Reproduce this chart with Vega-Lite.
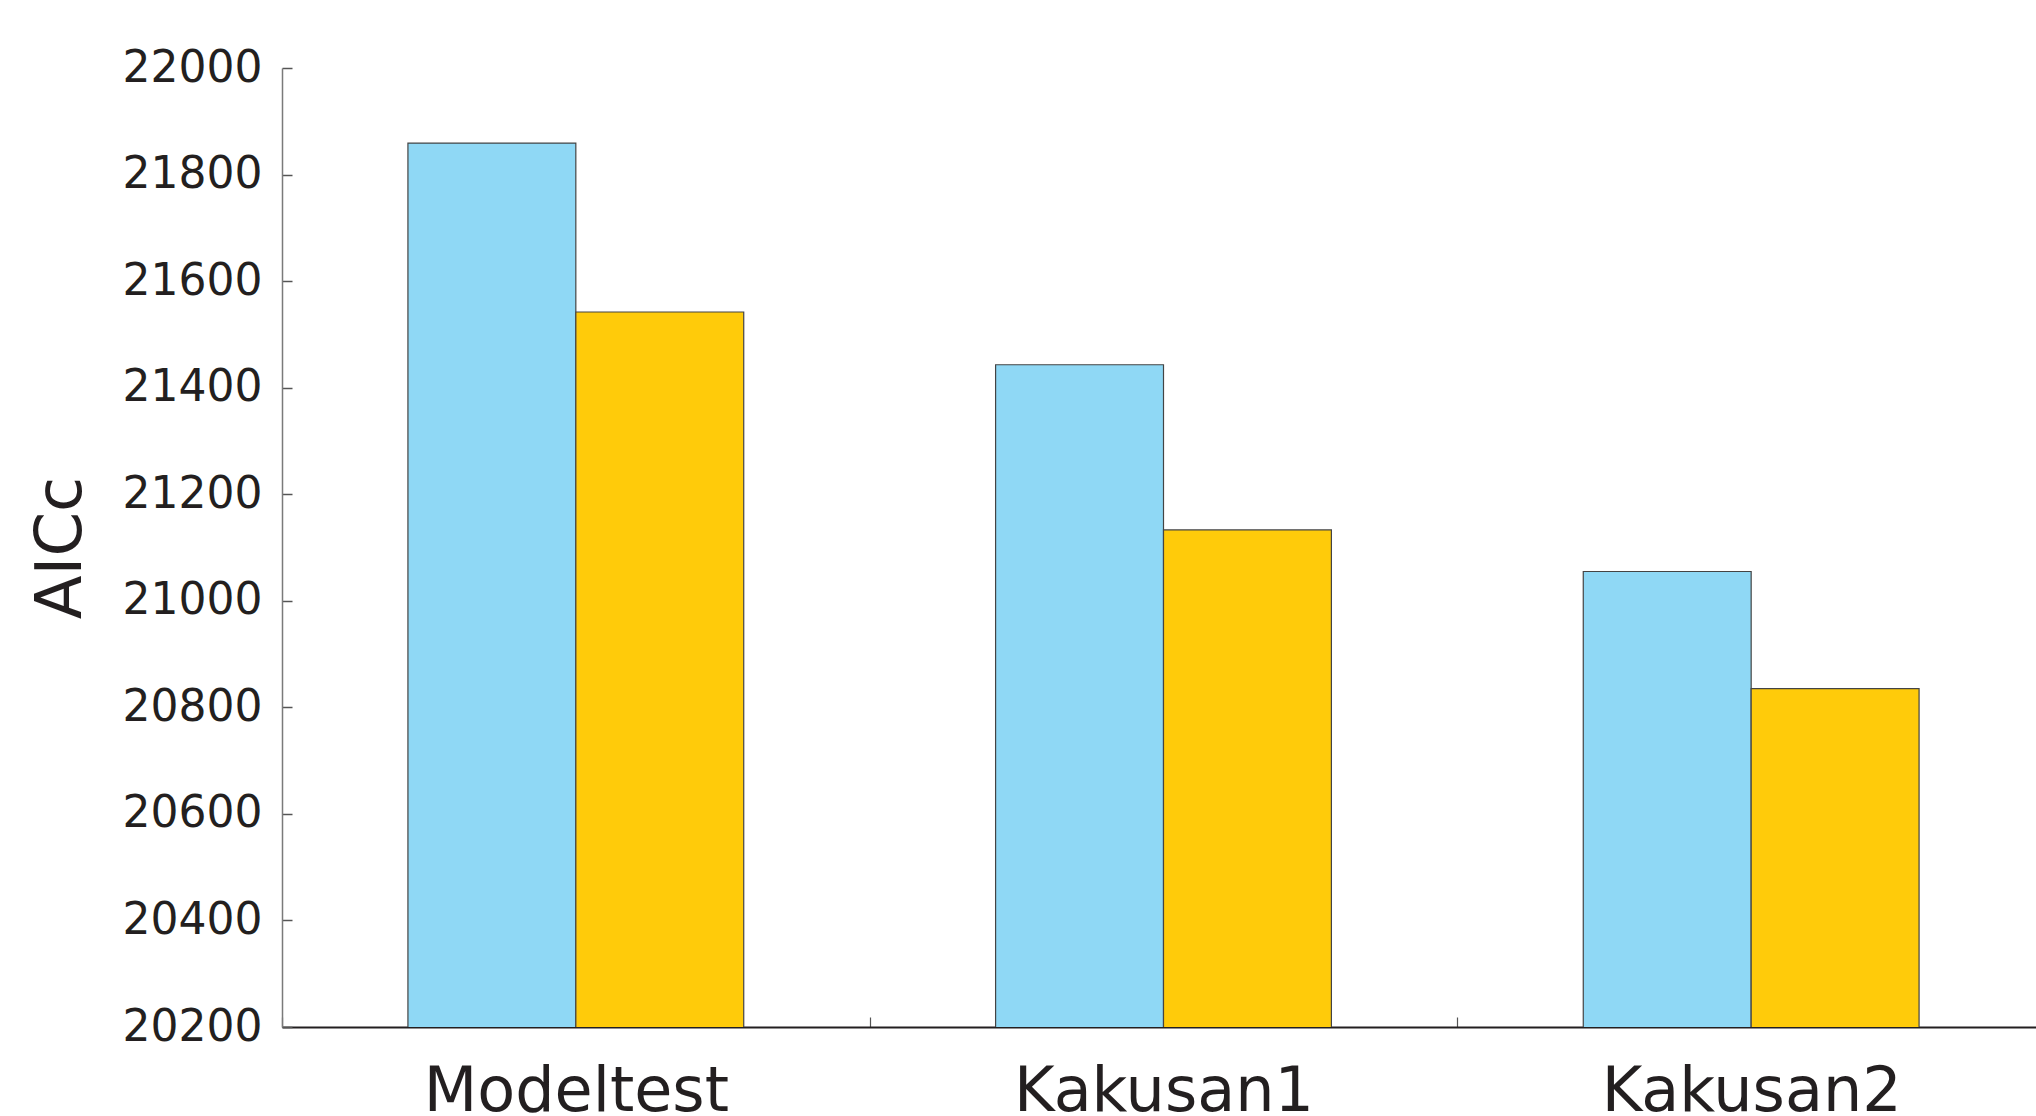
{
  "$schema": "https://vega.github.io/schema/vega-lite/v6.json",
  "width": 1754,
  "height": 959,
  "autosize": {"type": "none"},
  "padding": {"left": 282, "top": 68, "right": 0, "bottom": 89},
  "background": "white",
  "data": {
    "values": [
      {"program": "Modeltest", "series": "A", "AICc": 21859},
      {"program": "Modeltest", "series": "B", "AICc": 21542},
      {"program": "Kakusan1", "series": "A", "AICc": 21443},
      {"program": "Kakusan1", "series": "B", "AICc": 21133},
      {"program": "Kakusan2", "series": "A", "AICc": 21055},
      {"program": "Kakusan2", "series": "B", "AICc": 20835}
    ]
  },
  "mark": {"type": "bar", "stroke": "#444444", "strokeWidth": 1.2, "clip": true},
  "encoding": {
    "x": {
      "field": "program",
      "type": "nominal",
      "sort": ["Modeltest", "Kakusan1", "Kakusan2"],
      "scale": {"range": [0, 1763], "paddingInner": 0, "paddingOuter": 0},
      "axis": {
        "title": null,
        "labelAngle": 0,
        "labelFont": "DejaVu Sans",
        "labelFontSize": 62,
        "labelColor": "#231f20",
        "labelPadding": 44,
        "labelLimit": 0,
        "tickBand": "extent",
        "tickSize": -10,
        "tickColor": "#555555",
        "tickWidth": 1.2,
        "domainColor": "#231f20",
        "domainWidth": 2
      }
    },
    "xOffset": {
      "field": "series",
      "type": "nominal",
      "scale": {"paddingInner": 0, "paddingOuter": 0.75}
    },
    "y": {
      "field": "AICc",
      "type": "quantitative",
      "scale": {"domain": [20200, 22000], "zero": false, "nice": false},
      "axis": {
        "title": "AICc",
        "titleFont": "DejaVu Sans",
        "titleFontSize": 64,
        "titleFontWeight": "normal",
        "titleColor": "#231f20",
        "titlePadding": 29,
        "values": [20200, 20400, 20600, 20800, 21000, 21200, 21400, 21600, 21800, 22000],
        "format": "d",
        "labelFont": "DejaVu Sans",
        "labelFontSize": 44,
        "labelColor": "#231f20",
        "labelPadding": 30,
        "labelLimit": 0,
        "tickSize": -10,
        "tickColor": "#555555",
        "tickWidth": 1.5,
        "domainColor": "#7a7a7a",
        "domainWidth": 1.5,
        "grid": false
      }
    },
    "color": {
      "field": "series",
      "type": "nominal",
      "scale": {"domain": ["A", "B"], "range": ["#8fd8f5", "#ffcb0a"]},
      "legend": null
    }
  },
  "config": {"view": {"stroke": null}}
}
